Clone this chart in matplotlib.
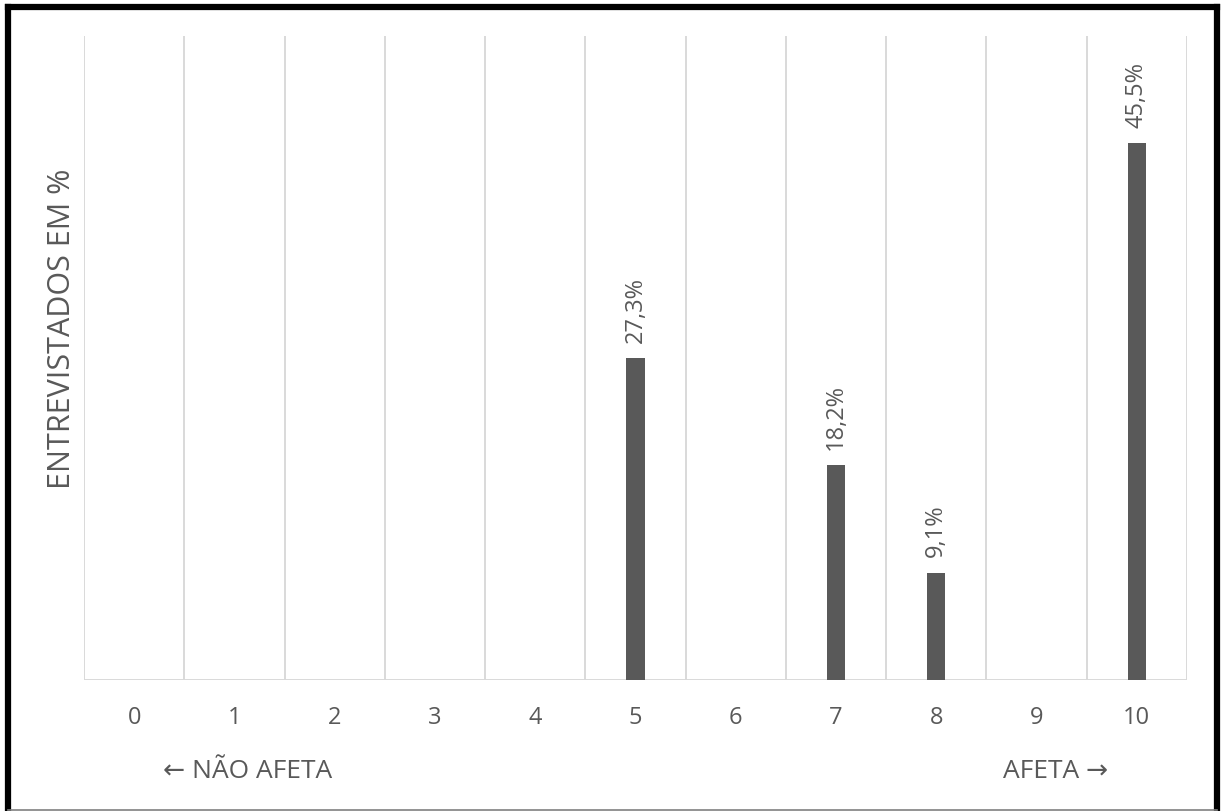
import matplotlib.pyplot as plt
from matplotlib.lines import Line2D

categories = ["0", "1", "2", "3", "4", "5", "6", "7", "8", "9", "10"]
values = [0, 0, 0, 0, 0, 27.3, 0, 18.2, 9.1, 0, 45.5]
value_labels = ["", "", "", "", "", "27,3%", "", "18,2%", "9,1%", "", "45,5%"]

TEXT = "#595959"
BAR = "#595959"
GRID = "#d9d9d9"
FONT = ["Open Sans", "DejaVu Sans"]

W, H = 1222, 811
fig = plt.figure(figsize=(W / 100, H / 100), dpi=100)
ax = fig.add_axes([84 / W, 1 - 680 / H, (1187 - 84) / W, (680 - 36) / H])

x = list(range(len(categories)))
ax.bar(x, values, width=0.18, color=BAR, zorder=3)

ax.set_xlim(-0.5, len(categories) - 0.5)
ax.set_ylim(0, 54.6)

# vertical separators between categories
for b in range(len(categories) + 1):
    ax.axvline(b - 0.5, color=GRID, lw=1.4, zorder=1)
ax.axhline(0, color=GRID, lw=1.4, zorder=2)

for s in ax.spines.values():
    s.set_visible(False)
ax.set_yticks([])
ax.set_xticks(x)
ax.set_xticklabels(categories, fontsize=17, color=TEXT, family=FONT)
ax.tick_params(axis="x", length=0, pad=19)

for xi, v, lab in zip(x, values, value_labels):
    if lab:
        ax.annotate(lab, (xi, v), xytext=(0, 11), textcoords="offset points",
                    rotation=90, ha="center", va="bottom",
                    fontsize=17, color=TEXT, family=FONT)

fig.text(62 / W, 1 - 329 / H, "ENTREVISTADOS EM %", rotation=90,
         ha="center", va="center", fontsize=22, color=TEXT, family=FONT)
fig.text(163 / W, 1 - 772 / H, "← NÃO AFETA", ha="left", va="center",
         fontsize=19, color=TEXT, family=FONT)
fig.text(1108 / W, 1 - 772 / H, "AFETA →", ha="right", va="center",
         fontsize=19, color=TEXT, family=FONT)

# outer frame
def px_line(xs, ys, **kw):
    fig.add_artist(Line2D([p / W for p in xs], [1 - q / H for q in ys],
                          transform=fig.transFigure, **kw))

px_line([8, 8], [7, 809], color="black", lw=4.5, solid_capstyle="projecting")
px_line([8, 1217], [7, 7], color="black", lw=4.5, solid_capstyle="projecting")
px_line([1217, 1217], [7, 809], color="black", lw=4.5, solid_capstyle="projecting")
px_line([8, 1217], [809.5, 809.5], color="#808080", lw=1.2)

fig.savefig("out.png", dpi=100)
